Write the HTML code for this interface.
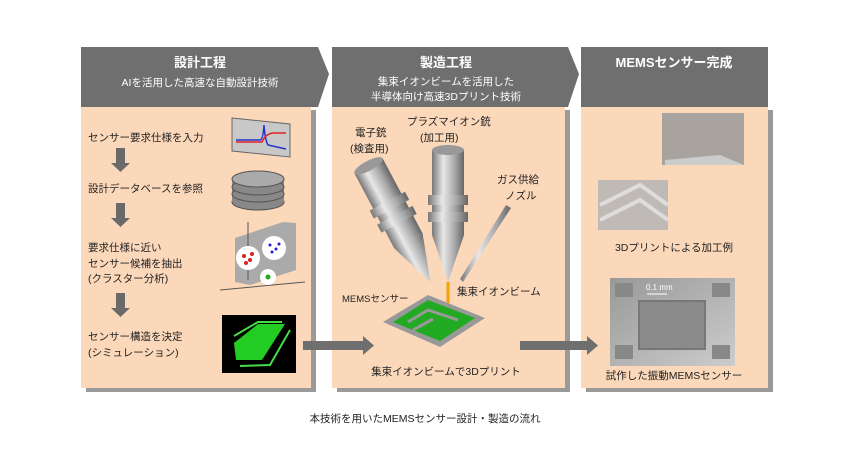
<!DOCTYPE html>
<html><head><meta charset="utf-8"><style>
body{margin:0;width:850px;height:470px;background:#fff;overflow:hidden}
svg text{font-family:"Liberation Sans","Noto Sans CJK JP",sans-serif}
</style></head><body>
<svg width="850" height="470" viewBox="0 0 850 470" xmlns="http://www.w3.org/2000/svg">
<defs>
<linearGradient id="cyl" x1="0" x2="1"><stop offset="0" stop-color="#777"/><stop offset=".35" stop-color="#e8e8e8"/><stop offset=".7" stop-color="#aaa"/><stop offset="1" stop-color="#666"/></linearGradient>
<linearGradient id="sem" x1="0" y1="0" x2="1" y2="1"><stop offset="0" stop-color="#999"/><stop offset="1" stop-color="#ccc"/></linearGradient>
</defs>
<rect x="86" y="110" width="230" height="282" fill="#9a9a9a"/>
<rect x="337" y="110" width="233" height="282" fill="#9a9a9a"/>
<rect x="586" y="110" width="187" height="282" fill="#9a9a9a"/>
<rect x="81" y="105" width="230" height="283" fill="#fcd8bb"/>
<rect x="332" y="105" width="233" height="283" fill="#fcd8bb"/>
<rect x="581" y="105" width="187" height="283" fill="#fcd8bb"/>
<polygon points="81,47 318,47 329,74 318,107 81,107" fill="#6f6f6f"/>
<polygon points="332,47 568,47 579,74 568,107 332,107" fill="#6f6f6f"/>
<rect x="581" y="47" width="187" height="60" fill="#6f6f6f"/>
<g fill="#fff" font-weight="bold" text-anchor="middle">
<text x="200" y="67" font-size="13">設計工程</text>
<text x="446" y="67" font-size="13">製造工程</text>
<text x="674" y="67" font-size="13">MEMSセンサー完成</text>
</g>
<g fill="#fff" font-size="10.5" text-anchor="middle">
<text x="200" y="86">AIを活用した高速な自動設計技術</text>
<text x="446" y="85">集束イオンビームを活用した</text>
<text x="446" y="100">半導体向け高速3Dプリント技術</text>
</g>
<g font-size="10.5" fill="#222">
<text x="88" y="141">センサー要求仕様を入力</text>
<text x="88" y="192">設計データベースを参照</text>
<text x="88" y="251">要求仕様に近い</text>
<text x="88" y="267">センサー候補を抽出</text>
<text x="88" y="282">(クラスター分析)</text>
<text x="88" y="340">センサー構造を決定</text>
<text x="88" y="356">(シミュレーション)</text>
</g>
<g fill="#6a6a6a">
<rect x="116" y="148" width="9" height="15"/><polygon points="111,163 130,163 120.5,172"/>
<rect x="116" y="203" width="9" height="15"/><polygon points="111,218 130,218 120.5,227"/>
<rect x="116" y="293" width="9" height="15"/><polygon points="111,308 130,308 120.5,317"/>
</g>
<polygon points="232,118 290,124 290,157 232,151" fill="#c8c8c8" stroke="#666"/>
<path d="M236,140 L260,140 Q263,140 264,125 Q265,140 268,145 L286,149" stroke="#2233cc" fill="none" stroke-width="1.5"/>
<path d="M236,142 L262,142 Q266,133 274,133 L286,133" stroke="#dd2222" fill="none" stroke-width="1.5"/>
<g fill="#888" stroke="#555">
<ellipse cx="258" cy="202" rx="26" ry="8"/><rect x="232" y="180" width="52" height="22" stroke="none"/>
<ellipse cx="258" cy="194" rx="26" ry="8"/><ellipse cx="258" cy="187" rx="26" ry="8"/><ellipse cx="258" cy="179" rx="26" ry="8" fill="#aaa"/>
</g>
<polygon points="235,238 283,222 296,223 296,270 250,285 235,282" fill="#aaa"/>
<line x1="248" y1="222" x2="248" y2="280" stroke="#555"/><line x1="220" y1="290" x2="305" y2="282" stroke="#555"/>
<circle cx="248" cy="258" r="12" fill="#fff"/><circle cx="274" cy="248" r="12" fill="#fff"/><circle cx="268" cy="277" r="8" fill="#fff"/>
<g fill="#d22"><circle cx="244" cy="256" r="2"/><circle cx="250" cy="260" r="2"/><circle cx="246" cy="263" r="2"/><circle cx="252" cy="254" r="2"/></g>
<g fill="#22c"><circle cx="270" cy="245" r="1.5"/><circle cx="276" cy="249" r="1.5"/><circle cx="279" cy="244" r="1.5"/><circle cx="272" cy="252" r="1.5"/></g>
<circle cx="268" cy="277" r="2.5" fill="#2a2"/>
<rect x="222" y="315" width="74" height="58" fill="#000"/>
<polygon points="234,343 258,324 285,324 262,360 236,360" fill="#2c2"/>
<polyline points="234,336 258,322 282,322" stroke="#4d4" fill="none" stroke-width="2"/>
<polyline points="290,330 270,365 240,366" stroke="#4d4" fill="none" stroke-width="2"/>
<rect x="303" y="341" width="60" height="9" fill="#6f6f6f"/><polygon points="363,336 374,345.5 363,355" fill="#6f6f6f"/>
<rect x="520" y="341" width="67" height="9" fill="#6f6f6f"/><polygon points="587,336 598,345.5 587,355" fill="#6f6f6f"/>
<g font-size="10.5" fill="#222">
<text x="355" y="136">電子銃</text><text x="350" y="152">(検査用)</text>
<text x="407" y="125">プラズマイオン銃</text><text x="420" y="141">(加工用)</text>
<text x="497" y="183">ガス供給</text><text x="505" y="199">ノズル</text>
<text x="457" y="295">集束イオンビーム</text>
<text x="342" y="302" font-size="9.5">MEMSセンサー</text>
</g>
<text x="446" y="375" font-size="10.5" text-anchor="middle" fill="#222">集束イオンビームで3Dプリント</text>
<g transform="rotate(-28 392 210)"><rect x="376" y="160" width="32" height="85" fill="url(#cyl)"/><rect x="372" y="200" width="40" height="9" fill="url(#cyl)"/><rect x="372" y="216" width="40" height="9" fill="url(#cyl)"/><polygon points="376,245 408,245 392,292" fill="url(#cyl)"/><ellipse cx="392" cy="160" rx="16" ry="5" fill="#999"/></g>
<rect x="432" y="150" width="32" height="85" fill="url(#cyl)"/>
<rect x="428" y="195" width="40" height="10" fill="url(#cyl)"/><rect x="428" y="212" width="40" height="10" fill="url(#cyl)"/>
<polygon points="432,235 464,235 448,282" fill="url(#cyl)"/>
<ellipse cx="448" cy="150" rx="16" ry="5" fill="#999"/>
<polygon points="506,205 511,208 463,282 460,279" fill="url(#cyl)"/>
<line x1="448" y1="282" x2="448" y2="322" stroke="#f5a000" stroke-width="3"/>
<polygon points="383,322 428,295 485,318 440,347" fill="#999"/>
<polygon points="393,322 428,300 475,318 440,341" fill="#2a2"/>
<path d="M408,322 L428,310 L458,320 M413,330 L433,319" stroke="#999" stroke-width="3" fill="none"/>
<rect x="662" y="113" width="82" height="52" fill="#9a9a9a" opacity=".85"/>
<polygon points="665,160 720,155 744,165 665,165" fill="#ccc"/>
<rect x="598" y="180" width="70" height="50" fill="#b5b5b5" opacity=".85"/>
<polyline points="600,205 640,185 668,205" stroke="#ddd" stroke-width="4" fill="none"/>
<polyline points="600,220 640,200 668,220" stroke="#ddd" stroke-width="4" fill="none"/>
<text x="674" y="251" font-size="10.5" text-anchor="middle" fill="#222">3Dプリントによる加工例</text>
<rect x="610" y="278" width="125" height="88" fill="url(#sem)"/>
<rect x="638" y="300" width="68" height="50" fill="#777"/>
<rect x="640" y="302" width="64" height="46" fill="#999" opacity=".6"/>
<rect x="615" y="283" width="18" height="14" fill="#888"/><rect x="712" y="283" width="18" height="14" fill="#888"/>
<rect x="615" y="345" width="18" height="14" fill="#888"/><rect x="712" y="345" width="18" height="14" fill="#888"/>
<text x="646" y="290" font-size="8" fill="#fff">0.1 mm</text>
<line x1="647" y1="294" x2="667" y2="294" stroke="#fff"/>
<text x="674" y="379" font-size="10.5" text-anchor="middle" fill="#222">試作した振動MEMSセンサー</text>
<text x="425" y="422" font-size="10.5" text-anchor="middle" fill="#222">本技術を用いたMEMSセンサー設計・製造の流れ</text>
</svg>
</body></html>
